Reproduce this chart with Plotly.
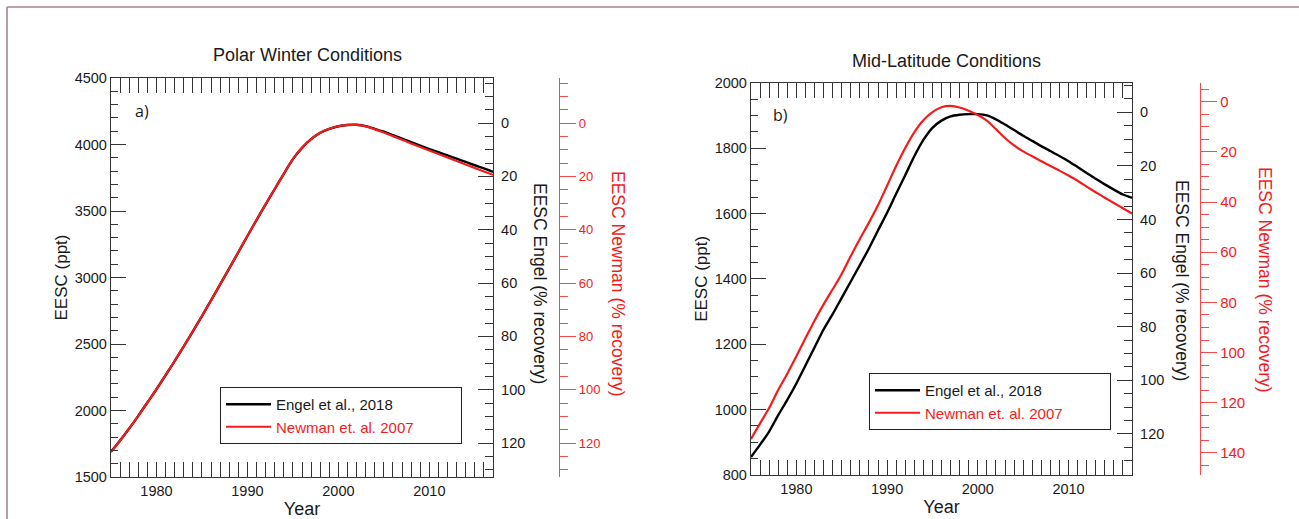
import plotly.graph_objects as go

# ---------------------------------------------------------------- data
years = list(range(1975, 2018))

# Polar winter EESC (ppt)
polar_engel = [1690, 1775, 1865, 1960, 2060, 2160, 2265, 2372, 2482, 2595,
               2710, 2828, 2948, 3068, 3190, 3312, 3432, 3550, 3665, 3780,
               3890, 3975, 4040, 4088, 4118, 4137, 4147, 4148, 4138, 4118,
               4096, 4070, 4044, 4017, 3991, 3966, 3942, 3918, 3893, 3869,
               3844, 3820, 3795]
polar_newman = [1688, 1774, 1865, 1960, 2060, 2160, 2265, 2372, 2482, 2595,
                2710, 2828, 2948, 3068, 3190, 3312, 3432, 3550, 3665, 3780,
                3890, 3975, 4040, 4088, 4118, 4137, 4147, 4147, 4136, 4114,
                4090, 4063, 4036, 4008, 3981, 3955, 3929, 3903, 3876, 3850,
                3823, 3797, 3772]

# Mid-latitude EESC (ppt)
midlat_engel = [855, 893, 933, 983, 1030, 1080, 1135, 1190, 1245, 1292,
                1342, 1392, 1442, 1493, 1548, 1602, 1660, 1717, 1775, 1825,
                1862, 1884, 1897, 1902, 1904, 1904, 1900, 1888, 1872, 1855,
                1838, 1822, 1806, 1791, 1776, 1760, 1742, 1724, 1706, 1689,
                1673, 1658, 1648]
midlat_newman = [910, 958, 1005, 1060, 1110, 1163, 1218, 1272, 1322, 1368,
                 1415, 1470, 1522, 1572, 1625, 1685, 1745, 1800, 1848, 1885,
                 1910, 1925, 1929, 1924, 1914, 1901, 1884, 1858, 1831, 1808,
                 1790, 1775, 1760, 1745, 1731, 1716, 1700, 1682, 1665, 1648,
                 1632, 1616, 1600]

panel_titles = ["Polar Winter Conditions", "Mid-Latitude Conditions"]
panel_tags = ["a)", "b)"]
series_names = ["Engel et al., 2018", "Newman et. al. 2007"]
engel_axis_title = "EESC Engel (% recovery)"
newman_axis_title = "EESC Newman (% recovery)"

# ---------------------------------------------------------------- styling
W, H = 1299, 519
FONT = "Liberation Sans, Arial, sans-serif"
INK = "#1a1a1a"
AXIS = "#333333"
RED = "#f21c1c"
RED_AXIS = "#f24a4a"
FRAME = "#a8808e"


def fx(px):
    return px / W


def fy(px):
    return 1 - px / H


fig = go.Figure()

line_common = dict(shape="spline", smoothing=0.7)
# padding keeps the legend box wide with space after the labels
pad = "\u00a0" * 10

# polar panel traces
fig.add_trace(go.Scatter(x=years, y=polar_engel, mode="lines", name=series_names[0],
                         line=dict(color="black", width=2.4, **line_common),
                         xaxis="x", yaxis="y", legend="legend"))
fig.add_trace(go.Scatter(x=years, y=polar_newman, mode="lines",
                         name=f"<span style='color:{RED}'>{series_names[1]}</span>{pad}",
                         line=dict(color=RED, width=2.2, **line_common),
                         xaxis="x", yaxis="y", legend="legend"))
# mid-latitude panel traces
fig.add_trace(go.Scatter(x=years, y=midlat_engel, mode="lines", name=series_names[0],
                         line=dict(color="black", width=2.4, **line_common),
                         xaxis="x2", yaxis="y4", legend="legend2"))
fig.add_trace(go.Scatter(x=years, y=midlat_newman, mode="lines",
                         name=f"<span style='color:{RED}'>{series_names[1]}</span>{pad}",
                         line=dict(color=RED, width=2.2, **line_common),
                         xaxis="x2", yaxis="y4", legend="legend2"))
# empty traces so the recovery axes are drawn
for ya, xa in (("y2", "x"), ("y3", "x"), ("y5", "x2"), ("y6", "x2")):
    fig.add_trace(go.Scatter(x=[], y=[], xaxis=xa, yaxis=ya, showlegend=False,
                             hoverinfo="skip"))

tickfont = dict(family=FONT, size=14.5, color=INK)


def xaxis_cfg(domain, anchor):
    return dict(domain=domain, anchor=anchor, range=[1975, 2017], automargin=False,
                showline=True, linecolor=AXIS, linewidth=1.4, mirror="allticks",
                ticks="inside", ticklen=15, tickwidth=1.4, tickcolor=AXIS,
                tick0=1980, dtick=10, tickfont=tickfont,
                minor=dict(dtick=1, ticklen=7, tickwidth=1.2, tickcolor=AXIS,
                           ticks="inside", showgrid=False),
                showgrid=False, zeroline=False,
                title=dict(text="Year", font=dict(family=FONT, size=18, color=INK),
                           standoff=4))


def eesc_axis_cfg(domain, anchor, rng, major, minor):
    return dict(domain=domain, anchor=anchor, range=rng, automargin=False,
                showline=True, linecolor=AXIS, linewidth=1.4,
                ticks="inside", ticklen=15, tickwidth=1.4, tickcolor=AXIS,
                dtick=major, tickfont=tickfont,
                minor=dict(dtick=minor, ticklen=7, tickwidth=1.2, tickcolor=AXIS,
                           ticks="inside", showgrid=False),
                showgrid=False, zeroline=False,
                title=dict(text="EESC (ppt)", font=dict(family=FONT, size=17, color=INK),
                           standoff=2))


def engel_axis_cfg(over, anchor, rng):
    return dict(overlaying=over, anchor=anchor, side="right", range=rng,
                automargin=False,
                showline=True, linecolor=AXIS, linewidth=1.4,
                ticks="inside", ticklen=15, tickwidth=1.4, tickcolor=AXIS,
                tick0=0, dtick=20, tickfont=tickfont, ticklabelstandoff=4,
                minor=dict(dtick=5, ticklen=8, tickwidth=1.2, tickcolor=AXIS,
                           ticks="inside", showgrid=False),
                showgrid=False, zeroline=False)


def newman_axis_cfg(over, pos, rng, size):
    return dict(overlaying=over, anchor="free", position=pos, side="right", range=rng,
                automargin=False,
                showline=True, linecolor=RED_AXIS, linewidth=1.4,
                ticks="outside", ticklen=16, tickwidth=1.4, tickcolor=RED_AXIS,
                tick0=0, dtick=20, tickfont=dict(family=FONT, size=size, color=RED),
                minor=dict(dtick=5, ticklen=8, tickwidth=1.2, tickcolor=RED_AXIS,
                           ticks="outside", showgrid=False),
                showgrid=False, zeroline=False)


left_x = [fx(111), fx(493)]
left_y = [fy(477), fy(78)]
right_x = [fx(751), fx(1132)]
right_y = [fy(475), fy(82.7)]

legend_common = dict(bordercolor="#222222", borderwidth=1, bgcolor="white",
                     font=dict(family=FONT, size=15, color=INK),
                     xanchor="left", yanchor="top", itemwidth=45,
                     tracegroupgap=0, traceorder="normal")

fig.update_layout(
    width=W, height=H,
    margin=dict(l=0, r=0, t=0, b=0, pad=0, autoexpand=False),
    paper_bgcolor="white", plot_bgcolor="white",
    showlegend=True,
    xaxis=xaxis_cfg(left_x, "y"),
    yaxis=eesc_axis_cfg(left_y, "x", [1500, 4500], 500, 100),
    yaxis2=engel_axis_cfg("y", "x", [132.75, -16.9]),
    yaxis3=newman_axis_cfg("y", fx(559), [132.75, -16.9], 13),
    xaxis2=xaxis_cfg(right_x, "y4"),
    yaxis4=eesc_axis_cfg(right_y, "x2", [800, 2000], 200, 50),
    yaxis5=engel_axis_cfg("y4", "x2", [135.3, -11.04]),
    yaxis6=newman_axis_cfg("y4", fx(1200), [148.8, -7.57], 15),
    legend=dict(x=fx(220), y=fy(387), **legend_common),
    legend2=dict(x=fx(869), y=fy(373), **legend_common),
)

annotations = [
    dict(text=panel_titles[0], x=fx(307), y=fy(55)),
    dict(text=panel_titles[1], x=fx(946), y=fy(61)),
]
for a in annotations:
    a.update(xref="paper", yref="paper", showarrow=False,
             font=dict(family=FONT, size=18, color=INK), xanchor="center", yanchor="middle")

for tag, (x, y) in zip(panel_tags, [(133, 111), (771, 115)]):
    annotations.append(dict(text=tag, x=fx(x), y=fy(y), xref="paper", yref="paper",
                            showarrow=False, xanchor="left", yanchor="middle",
                            font=dict(family="Open Sans, sans-serif", size=16, color=INK)))

for text, x, y, color in [(engel_axis_title, 540, 283, INK),
                          (newman_axis_title, 618, 284, RED),
                          (engel_axis_title, 1182, 280, INK),
                          (newman_axis_title, 1265, 280, RED)]:
    annotations.append(dict(text=text, x=fx(x), y=fy(y), xref="paper", yref="paper",
                            showarrow=False, textangle=90, xanchor="center",
                            yanchor="middle",
                            font=dict(family=FONT, size=17.5, color=color)))

fig.update_layout(annotations=annotations)

# outer frame: top and left edges
fig.add_shape(type="line", xref="paper", yref="paper",
              x0=fx(7), x1=1, y0=fy(7), y1=fy(7),
              line=dict(color=FRAME, width=1.6), layer="below")
fig.add_shape(type="line", xref="paper", yref="paper",
              x0=fx(7), x1=fx(7), y0=0, y1=fy(7),
              line=dict(color=FRAME, width=1.6), layer="below")

fig.write_html("out.html")
